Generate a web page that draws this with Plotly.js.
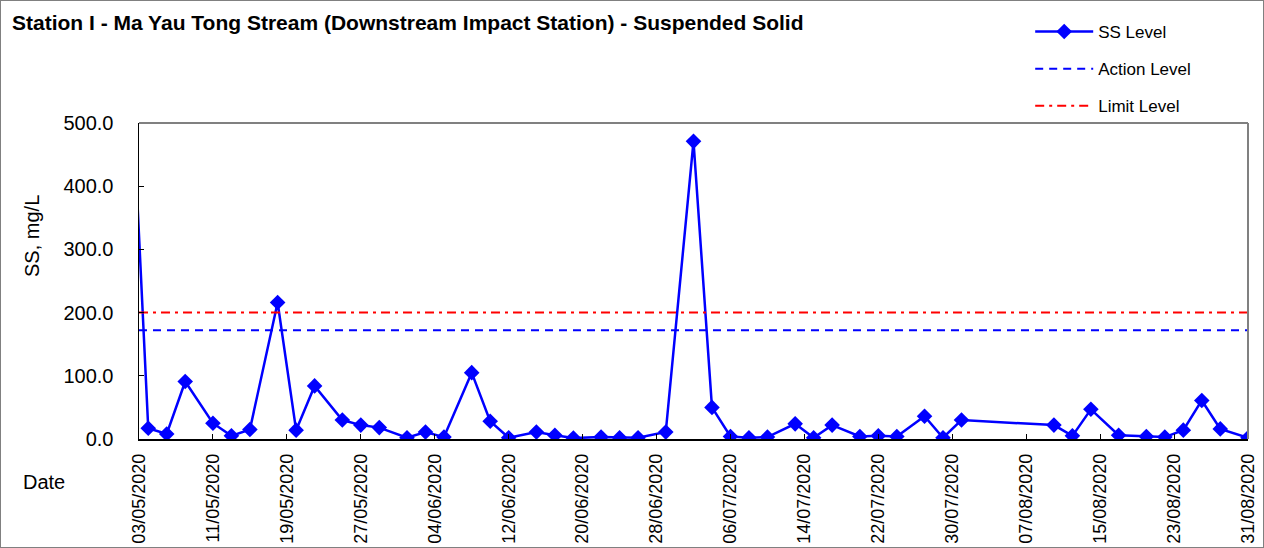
<!DOCTYPE html>
<html>
<head>
<meta charset="utf-8">
<script src="https://cdn.plot.ly/plotly-3.0.1.min.js"></script>
<style>
  html, body { margin: 0; padding: 0; background: #fff; }
  #frame { width: 1262px; height: 546px; border: 1px solid #808080; position: relative; overflow: hidden; }
  #chart { width: 1264px; height: 548px; position: absolute; left: -1px; top: -1px; }
</style>
</head>
<body>
<div id="frame"><div id="chart"></div></div>
<script>
// ---- data ----
const dates = [
  "2020-04-30",
  "2020-05-04","2020-05-06","2020-05-08","2020-05-11","2020-05-13","2020-05-15",
  "2020-05-18","2020-05-20","2020-05-22","2020-05-25","2020-05-27","2020-05-29",
  "2020-06-01","2020-06-03","2020-06-05","2020-06-08","2020-06-10","2020-06-12",
  "2020-06-15","2020-06-17","2020-06-19","2020-06-22","2020-06-24","2020-06-26",
  "2020-06-29","2020-07-02","2020-07-04","2020-07-06","2020-07-08","2020-07-10",
  "2020-07-13","2020-07-15","2020-07-17","2020-07-20","2020-07-22","2020-07-24",
  "2020-07-27","2020-07-29","2020-07-31","2020-08-10","2020-08-12","2020-08-14",
  "2020-08-17","2020-08-20","2020-08-22","2020-08-24","2020-08-26","2020-08-28",
  "2020-08-31"
];
const ssValues = [
  1240,
  17, 8, 91, 25, 5, 15,
  216, 14, 84, 30, 22, 18,
  2, 11, 3, 105, 28, 2,
  11, 6, 1.5, 3, 2, 2,
  11, 471, 50, 4, 2, 3,
  24, 2, 22, 4, 5, 4,
  36, 2, 30, 22, 5, 47,
  6, 4, 3, 14, 61, 16,
  2
];
const levelDates = ["2020-05-03", "2020-08-31"];
const actionLevel = [172, 172];
const limitLevel = [200, 200];
const tickDates = [
  "2020-05-03","2020-05-11","2020-05-19","2020-05-27","2020-06-04","2020-06-12",
  "2020-06-20","2020-06-28","2020-07-06","2020-07-14","2020-07-22","2020-07-30",
  "2020-08-07","2020-08-15","2020-08-23","2020-08-31"
];
const yTicks = [0, 100, 200, 300, 400, 500];

const FONT = "Arial, 'Liberation Sans', sans-serif";

const traces = [
  {
    x: dates, y: ssValues, type: "scatter", mode: "lines+markers", name: "SS Level",
    legendgroup: "a",
    line: { color: "#0000FF", width: 2.5 },
    marker: { symbol: "diamond", size: 12, color: "#0000FF" },
    cliponaxis: true
  },
  {
    x: levelDates, y: actionLevel, type: "scatter", mode: "lines", name: "Action Level",
    legendgroup: "b",
    line: { color: "#0000FF", width: 2, dash: "8px,6px" }
  },
  {
    x: levelDates, y: limitLevel, type: "scatter", mode: "lines", name: "Limit Level",
    legendgroup: "c",
    line: { color: "#FF0000", width: 2, dash: "9px,5px,3px,5px" }
  }
];

const layout = {
  width: 1264, height: 548,
  margin: { l: 139, r: 16, t: 123, b: 109, pad: 0 },
  paper_bgcolor: "#ffffff", plot_bgcolor: "#ffffff",
  font: { family: FONT, size: 18, color: "#000" },
  title: {
    text: "<b>Station I - Ma Yau Tong Stream (Downstream Impact Station) - Suspended Solid</b>",
    font: { family: FONT, size: 21, color: "#000" },
    x: 12 / 1264, xref: "container", xanchor: "left",
    y: 1 - 23 / 548, yref: "container", yanchor: "middle"
  },
  showlegend: true,
  legend: {
    x: 0.8036, xanchor: "left", y: 1.345, yanchor: "top",
    font: { family: FONT, size: 17, color: "#000" },
    tracegroupgap: 12, itemwidth: 58, bgcolor: "rgba(0,0,0,0)"
  },
  xaxis: {
    type: "date",
    range: ["2020-05-03", "2020-08-31"],
    tickvals: tickDates, tickformat: "%d/%m/%Y", tickangle: -90,
    ticks: "inside", ticklen: 5, tickcolor: "#000",
    showline: true, linecolor: "#000", linewidth: 1.5, mirror: false,
    showgrid: false, zeroline: false,
    ticklabelstandoff: 6,
    tickfont: { family: FONT, size: 18, color: "#000" }
  },
  yaxis: {
    range: [0, 500], tickvals: yTicks, tickformat: ".1f",
    ticks: "inside", ticklen: 5, tickcolor: "#000",
    showline: true, linecolor: "#000", linewidth: 1.5,
    showgrid: false, zeroline: false,
    ticklabelstandoff: 20,
    tickfont: { family: FONT, size: 20, color: "#000" }
  },
  shapes: [
    { type: "line", xref: "paper", yref: "paper", x0: 0, x1: 1, y0: 1, y1: 1, line: { color: "#808080", width: 2 } },
    { type: "line", xref: "paper", yref: "paper", x0: 1, x1: 1, y0: 0, y1: 1, line: { color: "#808080", width: 2 } }
  ],
  annotations: [
    { text: "SS, mg/L", xref: "paper", yref: "paper", x: -107 / 1109, y: (439 - 236) / 316,
      textangle: -90, showarrow: false, xanchor: "center", yanchor: "middle",
      font: { family: FONT, size: 20, color: "#000" } },
    { text: "Date", xref: "paper", yref: "paper", x: -95 / 1109, y: (439 - 482) / 316,
      showarrow: false, xanchor: "center", yanchor: "middle",
      font: { family: FONT, size: 20, color: "#000" } }
  ]
};

Plotly.newPlot("chart", traces, layout, { displayModeBar: false, staticPlot: true });
</script>
</body>
</html>
